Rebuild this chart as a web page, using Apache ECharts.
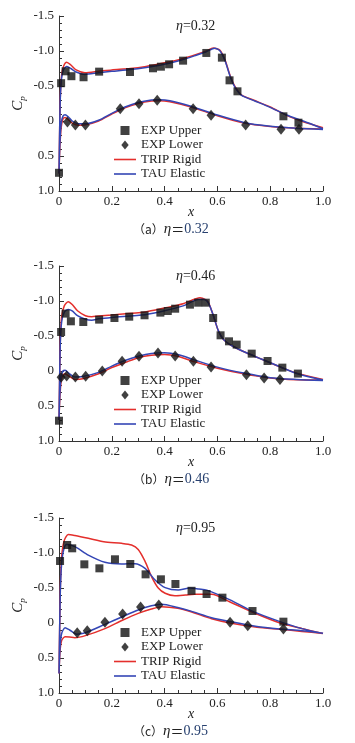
<!DOCTYPE html>
<html>
<head>
<meta charset="utf-8">
<script src="https://cdn.jsdelivr.net/npm/echarts@6/dist/echarts.min.js"></script>
<style>
  html, body { margin: 0; padding: 0; background: #fff; }
  #chart { width: 355px; height: 743px; }
</style>
</head>
<body>
<div id="chart"></div>
<script>
// panel labels
const etaValues = ['0.32', '0.46', '0.95']
const panelTags = ['a', 'b', 'c']
const legendNames = ['EXP Upper', 'EXP Lower', 'TRIP Rigid', 'TAU Elastic']

// y axis ticks (Cp, inverted) and x axis ticks
const cpTicks = [-1.5, -1.0, -0.5, 0, 0.5, 1.0]
const xTicks = [0, 0.2, 0.4, 0.6, 0.8, 1.0]

// ---- eta = 0.32 ----
const expUpperA = [[0,0.74],[0.008,-0.54],[0.025,-0.71],[0.047,-0.64],[0.093,-0.625],[0.152,-0.705],[0.269,-0.7],[0.356,-0.753],[0.386,-0.776],[0.417,-0.81],[0.47,-0.862],[0.558,-0.972],[0.617,-0.905],[0.646,-0.581],[0.676,-0.424],[0.85,-0.067],[0.907,0.024]]
const expLowerA = [[0.032,0.014],[0.062,0.057],[0.1,0.057],[0.232,-0.176],[0.303,-0.248],[0.372,-0.296],[0.508,-0.176],[0.576,-0.081],[0.707,0.057],[0.841,0.119],[0.909,0.119]]
const rigidUpperA = [[0,0.75],[0.002,0.25],[0.005,-0.35],[0.01,-0.66],[0.018,-0.79],[0.029,-0.84],[0.045,-0.8],[0.065,-0.73],[0.098,-0.69],[0.15,-0.71],[0.2,-0.73],[0.27,-0.75],[0.33,-0.78],[0.386,-0.82],[0.458,-0.88],[0.52,-0.95],[0.558,-1.0],[0.584,-1.043],[0.61,-1.01],[0.629,-0.87],[0.648,-0.65],[0.667,-0.49],[0.692,-0.37],[0.736,-0.3],[0.8,-0.2],[0.862,-0.08],[0.925,0.01],[1.0,0.095]]
const rigidLowerA = [[0,0.75],[0.003,0.4],[0.008,0.1],[0.015,-0.03],[0.023,-0.05],[0.035,-0.02],[0.05,0.03],[0.073,0.06],[0.1,0.055],[0.15,0.0],[0.2,-0.1],[0.25,-0.19],[0.3,-0.25],[0.35,-0.285],[0.38,-0.29],[0.42,-0.275],[0.5,-0.2],[0.6,-0.075],[0.7,0.03],[0.8,0.08],[0.9,0.105],[1.0,0.115]]
const elasticUpperA = [[0,0.75],[0.002,0.25],[0.005,-0.33],[0.01,-0.62],[0.018,-0.74],[0.03,-0.78],[0.045,-0.75],[0.065,-0.7],[0.098,-0.665],[0.15,-0.69],[0.2,-0.71],[0.27,-0.735],[0.33,-0.765],[0.386,-0.8],[0.458,-0.865],[0.52,-0.94],[0.558,-0.99],[0.59,-1.04],[0.61,-1.0],[0.629,-0.86],[0.648,-0.64],[0.667,-0.48],[0.692,-0.365],[0.736,-0.295],[0.8,-0.195],[0.862,-0.085],[0.925,0.0],[1.0,0.11]]
const elasticLowerA = [[0,0.75],[0.003,0.35],[0.008,0.04],[0.015,-0.07],[0.023,-0.09],[0.035,-0.06],[0.05,0.0],[0.073,0.04],[0.1,0.04],[0.15,-0.01],[0.2,-0.11],[0.25,-0.2],[0.3,-0.265],[0.35,-0.3],[0.38,-0.305],[0.42,-0.29],[0.5,-0.21],[0.6,-0.085],[0.7,0.02],[0.8,0.075],[0.9,0.105],[1.0,0.12]]

// ---- eta = 0.46 ----
const expUpperB = [[0,0.71],[0.008,-0.557],[0.025,-0.82],[0.045,-0.71],[0.092,-0.7],[0.152,-0.734],[0.21,-0.757],[0.266,-0.776],[0.324,-0.796],[0.384,-0.834],[0.412,-0.857],[0.44,-0.89],[0.496,-0.948],[0.527,-0.976],[0.556,-0.976],[0.584,-0.757],[0.612,-0.51],[0.644,-0.424],[0.673,-0.377],[0.73,-0.248],[0.79,-0.143],[0.846,-0.048],[0.905,0.037]]
const expLowerB = [[0.008,0.09],[0.029,0.07],[0.062,0.085],[0.101,0.076],[0.164,0.0],[0.239,-0.138],[0.303,-0.21],[0.375,-0.257],[0.44,-0.215],[0.509,-0.139],[0.576,-0.057],[0.71,0.052],[0.777,0.1],[0.837,0.123]]
const rigidUpperB = [[0,0.7],[0.002,0.2],[0.005,-0.45],[0.01,-0.78],[0.02,-0.93],[0.035,-0.99],[0.05,-0.95],[0.07,-0.86],[0.1,-0.79],[0.124,-0.775],[0.15,-0.785],[0.2,-0.8],[0.326,-0.843],[0.4,-0.9],[0.47,-0.96],[0.534,-1.045],[0.555,-1.02],[0.566,-0.98],[0.584,-0.8],[0.603,-0.58],[0.623,-0.45],[0.66,-0.35],[0.71,-0.26],[0.773,-0.16],[0.837,-0.06],[0.9,0.03],[1.0,0.12]]
const rigidLowerB = [[0,0.7],[0.003,0.4],[0.008,0.15],[0.015,0.06],[0.023,0.04],[0.04,0.08],[0.06,0.12],[0.09,0.11],[0.15,0.04],[0.2,-0.05],[0.25,-0.12],[0.3,-0.19],[0.35,-0.225],[0.4,-0.235],[0.45,-0.21],[0.515,-0.13],[0.6,-0.04],[0.7,0.04],[0.8,0.1],[0.9,0.125],[1.0,0.13]]
const elasticUpperB = [[0,0.7],[0.002,0.2],[0.005,-0.4],[0.01,-0.7],[0.02,-0.84],[0.035,-0.88],[0.05,-0.86],[0.07,-0.79],[0.1,-0.74],[0.124,-0.726],[0.15,-0.745],[0.2,-0.765],[0.326,-0.805],[0.4,-0.86],[0.47,-0.93],[0.528,-1.02],[0.55,-1.02],[0.566,-0.97],[0.584,-0.8],[0.603,-0.58],[0.623,-0.45],[0.66,-0.35],[0.71,-0.26],[0.773,-0.16],[0.837,-0.06],[0.9,0.035],[1.0,0.13]]
const elasticLowerB = [[0,0.7],[0.003,0.35],[0.008,0.08],[0.015,0.0],[0.023,-0.01],[0.04,0.04],[0.06,0.085],[0.09,0.08],[0.15,0.02],[0.2,-0.07],[0.25,-0.15],[0.3,-0.21],[0.35,-0.25],[0.4,-0.26],[0.45,-0.235],[0.515,-0.155],[0.6,-0.055],[0.7,0.03],[0.8,0.095],[0.9,0.12],[1.0,0.135]]

// ---- eta = 0.95 ----
const expUpperC = [[0.004,-0.886],[0.031,-1.114],[0.05,-1.067],[0.096,-0.838],[0.153,-0.781],[0.212,-0.91],[0.27,-0.843],[0.328,-0.695],[0.386,-0.624],[0.441,-0.557],[0.502,-0.46],[0.559,-0.414],[0.619,-0.362],[0.733,-0.171],[0.85,-0.019]]
const expLowerC = [[0.069,0.138],[0.107,0.11],[0.174,-0.01],[0.241,-0.129],[0.309,-0.229],[0.378,-0.257],[0.648,-0.01],[0.715,0.038],[0.85,0.086]]
const rigidUpperC = [[0,0.72],[0.002,0.2],[0.005,-0.5],[0.01,-0.95],[0.02,-1.18],[0.035,-1.265],[0.06,-1.25],[0.111,-1.21],[0.17,-1.16],[0.237,-1.138],[0.275,-1.114],[0.3,-1.05],[0.326,-0.88],[0.351,-0.66],[0.376,-0.5],[0.402,-0.425],[0.439,-0.39],[0.48,-0.4],[0.515,-0.41],[0.578,-0.41],[0.648,-0.3],[0.736,-0.15],[0.837,0.0],[0.92,0.08],[1.0,0.15]]
const rigidLowerC = [[0,0.72],[0.004,0.4],[0.01,0.25],[0.023,0.195],[0.04,0.2],[0.06,0.21],[0.1,0.18],[0.174,0.08],[0.24,-0.04],[0.3,-0.138],[0.35,-0.2],[0.389,-0.233],[0.45,-0.21],[0.5,-0.16],[0.578,-0.06],[0.648,0.0],[0.75,0.06],[0.837,0.09],[0.92,0.12],[1.0,0.15]]
const elasticUpperC = [[0,0.72],[0.002,0.2],[0.005,-0.45],[0.01,-0.85],[0.018,-1.05],[0.029,-1.12],[0.06,-1.09],[0.111,-0.97],[0.174,-0.867],[0.237,-0.843],[0.288,-0.848],[0.326,-0.78],[0.364,-0.614],[0.402,-0.505],[0.452,-0.47],[0.496,-0.5],[0.53,-0.485],[0.56,-0.47],[0.648,-0.33],[0.736,-0.162],[0.837,-0.02],[0.92,0.08],[1.0,0.148]]
const elasticLowerC = [[0,0.72],[0.004,0.35],[0.01,0.15],[0.023,0.067],[0.04,0.1],[0.067,0.16],[0.1,0.14],[0.174,0.02],[0.24,-0.09],[0.3,-0.186],[0.35,-0.245],[0.389,-0.267],[0.45,-0.22],[0.5,-0.17],[0.578,-0.076],[0.648,-0.02],[0.75,0.05],[0.837,0.085],[0.92,0.11],[1.0,0.145]]

const panels = [
  { expUpper: expUpperA, expLower: expLowerA, rigidUpper: rigidUpperA, rigidLower: rigidLowerA, elasticUpper: elasticUpperA, elasticLower: elasticLowerA },
  { expUpper: expUpperB, expLower: expLowerB, rigidUpper: rigidUpperB, rigidLower: rigidLowerB, elasticUpper: elasticUpperB, elasticLower: elasticLowerB },
  { expUpper: expUpperC, expLower: expLowerC, rigidUpper: rigidUpperC, rigidLower: rigidLowerC, elasticUpper: elasticUpperC, elasticLower: elasticLowerC }
]

const SERIF = '"Liberation Serif", "DejaVu Serif", serif'
const CJK = '"Noto Sans CJK SC", sans-serif'
const gridTops = [16, 266, 518]
const gridH = 175
const RED = '#e42f2c'
const BLUE = '#3446b5'

// legend icons (paths keep their aspect inside the legend box)
const squareIcon = 'path://M0,0 L8,0 L8,8 L0,8 Z'
const diamondIcon = 'path://M4.5,0 L9,5.5 L4.5,11 L0,5.5 Z'
const lineIcon = 'path://M0,0 L22,0 L22,1.6 L0,1.6 Z'

// upper surface from trailing edge to leading edge, then lower surface back
function loop(upper, lower) {
  return upper.slice().reverse().concat(lower.slice(1))
}

function fmt(v) {
  return v === 0 ? '0' : v.toFixed(1)
}

const chart = echarts.init(document.getElementById('chart'))

const grid = []
const xAxis = []
const yAxis = []
const series = []
const legend = []
const graphic = []

panels.forEach((p, i) => {
  grid.push({ left: 59, top: gridTops[i], width: 264, height: gridH })
  xAxis.push({
    type: 'value', gridIndex: i, min: xTicks[0], max: xTicks[xTicks.length - 1], interval: 0.2,
    name: 'x', nameLocation: 'middle', nameGap: 14, nameMoveOverlap: false,
    nameTextStyle: { fontFamily: SERIF, fontStyle: 'italic', fontSize: 14, color: '#222' },
    axisLine: { onZero: false, lineStyle: { color: '#333', width: 1 } },
    axisTick: { inside: true, length: 5, lineStyle: { color: '#333' } },
    minorTick: { show: true, splitNumber: 4, length: 3, lineStyle: { color: '#333' } },
    splitLine: { show: false },
    axisLabel: { margin: 4, fontFamily: SERIF, fontSize: 13, color: '#222', formatter: fmt }
  })
  yAxis.push({
    type: 'value', gridIndex: i, inverse: true, min: cpTicks[0], max: cpTicks[cpTicks.length - 1], interval: 0.5,
    name: '{c|C}{p|p}', nameLocation: 'middle', nameGap: 32, nameRotate: 90, nameMoveOverlap: false,
    nameTextStyle: {
      rich: {
        c: { fontFamily: SERIF, fontStyle: 'italic', fontSize: 15, color: '#222' },
        p: { fontFamily: SERIF, fontStyle: 'italic', fontSize: 9, color: '#222', padding: [8, 0, 0, 0] }
      }
    },
    axisLine: { onZero: false, lineStyle: { color: '#333', width: 1 } },
    axisTick: { inside: true, length: 5, lineStyle: { color: '#333' } },
    minorTick: { show: true, splitNumber: 5, length: 3, lineStyle: { color: '#333' } },
    splitLine: { show: false },
    axisLabel: { margin: 5, fontFamily: SERIF, fontSize: 13, color: '#222', formatter: fmt }
  })

  series.push({
    name: legendNames[2], type: 'line', xAxisIndex: i, yAxisIndex: i,
    data: loop(p.rigidUpper, p.rigidLower), symbol: 'none', smooth: 0.25,
    lineStyle: { color: RED, width: 1.5 }, itemStyle: { color: RED }, z: 2
  })
  series.push({
    name: legendNames[3], type: 'line', xAxisIndex: i, yAxisIndex: i,
    data: loop(p.elasticUpper, p.elasticLower), symbol: 'none', smooth: 0.25,
    lineStyle: { color: BLUE, width: 1.5 }, itemStyle: { color: BLUE }, z: 2
  })
  series.push({
    name: legendNames[0], type: 'scatter', xAxisIndex: i, yAxisIndex: i,
    data: p.expUpper, symbol: 'rect', symbolSize: 8,
    itemStyle: { color: '#111' }, z: 4
  })
  series.push({
    name: legendNames[1], type: 'scatter', xAxisIndex: i, yAxisIndex: i,
    data: p.expLower, symbol: 'diamond', symbolSize: [9, 11],
    itemStyle: { color: '#111' }, z: 4
  })

  legend.push({
    orient: 'vertical', left: 109, top: gridTops[i] + 103,
    itemWidth: 22, itemHeight: 9, itemGap: 1.5,
    data: [
      { name: legendNames[0], icon: squareIcon },
      { name: legendNames[1], icon: diamondIcon },
      { name: legendNames[2], icon: lineIcon },
      { name: legendNames[3], icon: lineIcon }
    ],
    textStyle: { fontFamily: SERIF, fontSize: 13, color: '#222' },
    selectedMode: false
  })

  const rich = {
    e: { fontFamily: SERIF, fontStyle: 'italic', fontSize: 14, fill: '#222' },
    n: { fontFamily: SERIF, fontSize: 14, fill: '#222' }
  }
  graphic.push({
    type: 'text', left: 176, top: gridTops[i] + 3,
    style: { text: '{e|η}{n|=' + etaValues[i] + '}', rich: rich }
  })

  const capRich = {
    t: { fontFamily: CJK, fontSize: 12, fill: '#222' },
    e: { fontFamily: SERIF, fontStyle: 'italic', fontSize: 15, fill: '#222' },
    q: { fontFamily: CJK, fontSize: 13, fill: '#222' },
    v: { fontFamily: SERIF, fontSize: 14, fill: '#27406f' }
  }
  graphic.push({
    type: 'text', left: 133, top: gridTops[i] + 206,
    style: { text: '{t|（' + panelTags[i] + '）}{e|η}{q|＝}{v|' + etaValues[i] + '}', rich: capRich }
  })
})

chart.setOption({
  backgroundColor: '#fff',
  animation: false,
  grid, xAxis, yAxis, series, legend, graphic
})

window.addEventListener('resize', () => chart.resize())
</script>
</body>
</html>
